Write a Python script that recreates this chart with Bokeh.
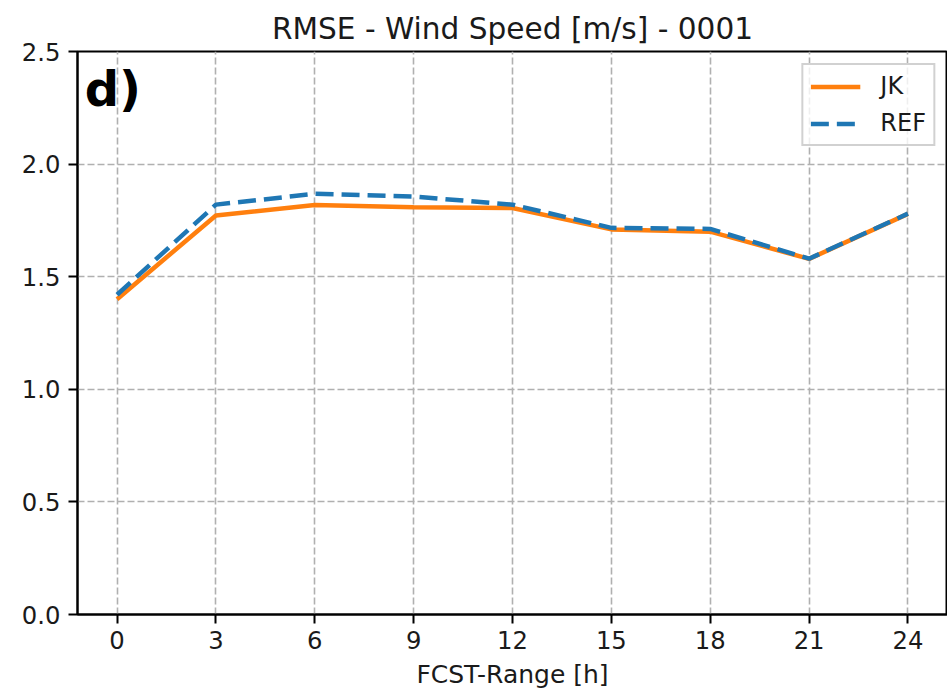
from bokeh.plotting import figure
from bokeh.models import Range1d, Legend, LegendItem, Label, FixedTicker, Title
from bokeh.embed import file_html
from bokeh.resources import INLINE

fcst_hours = [0, 3, 6, 9, 12, 15, 18, 21, 24]
rmse_jk = [1.40, 1.772, 1.818, 1.808, 1.805, 1.710, 1.700, 1.579, 1.779]
rmse_ref = [1.42, 1.820, 1.868, 1.856, 1.820, 1.717, 1.712, 1.580, 1.780]
y_ticks = [0.0, 0.5, 1.0, 1.5, 2.0, 2.5]
title_text = "RMSE - Wind Speed [m/s] - 0001"
xlabel_text = "FCST-Range [h]"
panel_tag = "d)"

FONT = "DejaVu Sans"

p = figure(width=947, height=693, output_backend="svg", toolbar_location=None,
           x_range=Range1d(-1.2, 25.2), y_range=Range1d(0, 2.5),
           min_border_left=77, min_border_right=0, min_border_top=51, min_border_bottom=79)
p.title = Title(text=title_text, align="center", text_font=FONT, text_font_size="29.6px",
                text_font_style="normal", text_color="#1a1a1a", standoff=11)
p.background_fill_color = "white"
p.border_fill_color = "white"
p.outline_line_color = "black"
p.outline_line_width = 2

for ax in (p.xaxis[0], p.yaxis[0]):
    ax.axis_line_color = "black"
    ax.axis_line_width = 2
    ax.major_tick_line_color = "black"
    ax.major_tick_line_width = 2
    ax.major_tick_out = 9
    ax.major_tick_in = 0
    ax.minor_tick_line_color = None
    ax.major_label_text_font = FONT
    ax.major_label_text_font_size = "24.3px"
    ax.major_label_text_color = "#1a1a1a"
    ax.major_label_standoff = 8

p.xaxis[0].major_label_standoff = 7
p.xaxis.ticker = FixedTicker(ticks=fcst_hours)
p.yaxis.ticker = FixedTicker(ticks=y_ticks)
p.yaxis.major_label_overrides = {t: f"{t:.1f}" for t in y_ticks}
p.xaxis.axis_label = xlabel_text
p.xaxis.axis_label_text_font = FONT
p.xaxis.axis_label_text_font_size = "25px"
p.xaxis.axis_label_text_font_style = "normal"
p.xaxis.axis_label_text_color = "#1a1a1a"
p.xaxis.axis_label_standoff = 8

for g in (p.xgrid[0], p.ygrid[0]):
    g.grid_line_color = "#b0b0b0"
    g.grid_line_width = 1.6
    g.grid_line_dash = "7 3"

r_jk = p.line(fcst_hours, rmse_jk, line_color="#ff7f0e", line_width=4.5)
r_ref = p.line(fcst_hours, rmse_ref, line_color="#1f77b4", line_width=4.5, line_dash="18 8")

legend = Legend(items=[LegendItem(label="JK", renderers=[r_jk]),
                       LegendItem(label="REF", renderers=[r_ref])],
                location="top_right", margin=12, padding=7, spacing=9,
                glyph_width=50, glyph_height=25, label_height=25, label_standoff=20,
                label_text_font=FONT, label_text_font_size="24px", label_text_color="#1a1a1a",
                border_line_color="#cccccc", border_line_width=2, border_line_alpha=0.9,
                background_fill_alpha=0.8)
p.add_layout(legend)

tag = Label(x=-0.98, y=2.46, text=panel_tag, text_font=FONT, text_font_size="48px",
            text_font_style="bold", text_color="black", text_baseline="top", text_align="left")
p.add_layout(tag)

open("out.html", "w").write(file_html(p, INLINE))
